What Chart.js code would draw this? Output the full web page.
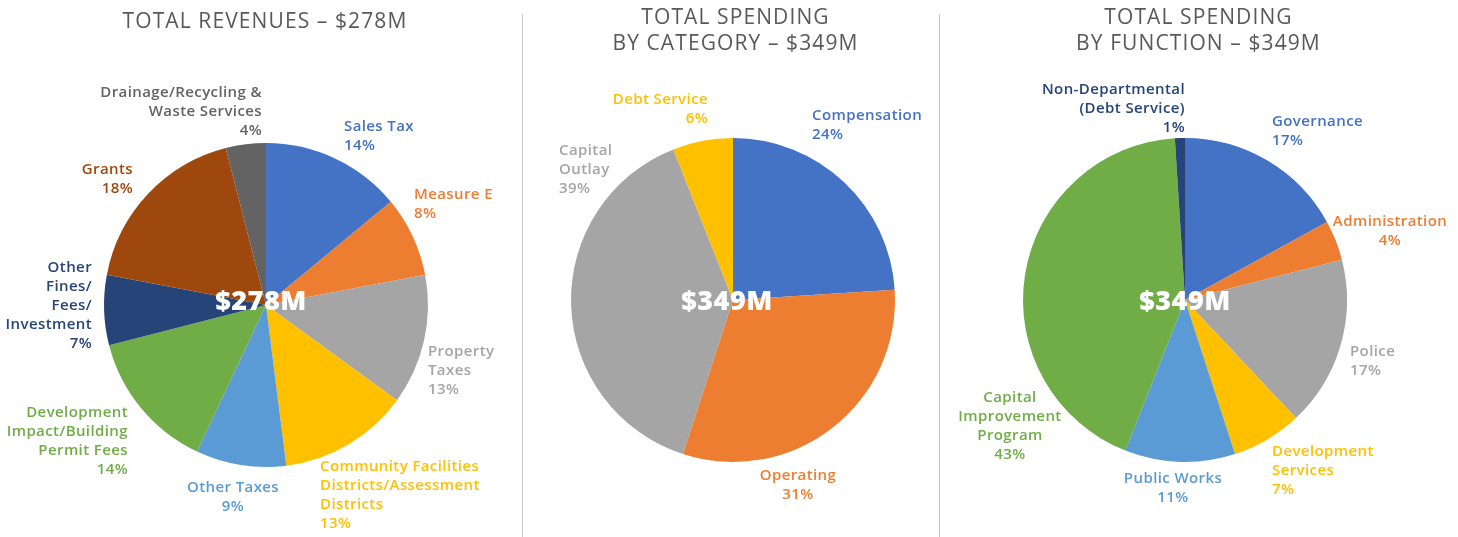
<!DOCTYPE html>
<html>
<head>
<meta charset="utf-8">
<script src="https://cdn.jsdelivr.net/npm/chart.js@4.4.1/dist/chart.umd.min.js"></script>
<style>
  body { margin: 0; background: #fff; width: 1458px; height: 537px; overflow: hidden; position: relative; font-family: "Open Sans", sans-serif; }
  .panel { position: absolute; top: 0; height: 537px; }
  .titulo { position: absolute; top: 7px; text-align: center; color: #595959; font-size: 21px; font-weight: 400; line-height: 26px; letter-spacing: 1.1px; }
  .divisor { position: absolute; top: 14px; width: 1px; height: 523px; background: #c9c9c9; }
</style>
</head>
<body>

<div class="panel" id="p1" style="left:0;width:520px">
  <canvas id="graficoIngresos"></canvas>
</div>
<div class="divisor" style="left:522px"></div>
<div class="panel" id="p2" style="left:523px;width:415px">
  <canvas id="graficoCategoria"></canvas>
</div>
<div class="divisor" style="left:939px"></div>
<div class="panel" id="p3" style="left:941px;width:517px">
  <canvas id="graficoFuncion"></canvas>
</div>

<div class="titulo" style="left:0;width:530px">TOTAL REVENUES – $278M</div>
<div class="titulo" style="left:523px;width:425px;top:3px">TOTAL SPENDING<br>BY CATEGORY – $349M</div>
<div class="titulo" style="left:941px;width:515px;top:3px">TOTAL SPENDING<br>BY FUNCTION – $349M</div>

<script>
// =====================================================
// DATOS
// =====================================================

const ingresosLabels = [
  ["Sales Tax"],
  ["Measure E"],
  ["Property", "Taxes"],
  ["Community Facilities", "Districts/Assessment", "Districts"],
  ["Other Taxes"],
  ["Development", "Impact/Building", "Permit Fees"],
  ["Other", "Fines/", "Fees/", "Investment"],
  ["Grants"],
  ["Drainage/Recycling &", "Waste Services"]
];
const ingresosPct = [14, 8, 13, 13, 9, 14, 7, 18, 4];
const ingresosTotal = "$278M";

const categoriaLabels = [
  ["Compensation"],
  ["Operating"],
  ["Capital", "Outlay"],
  ["Debt Service"]
];
const categoriaPct = [24, 31, 39, 6];
const categoriaTotal = "$349M";

const funcionLabels = [
  ["Governance"],
  ["Administration"],
  ["Police"],
  ["Development", "Services"],
  ["Public Works"],
  ["Capital", "Improvement", "Program"],
  ["Non-Departmental", "(Debt Service)"]
];
const funcionPct = [17, 4, 17, 7, 11, 43, 1];
const funcionTotal = "$349M";

// =====================================================
// ESTILOS
// =====================================================

const AZUL = "#4472C4", NARANJA = "#ED7D31", GRIS = "#A5A5A5", AMARILLO = "#FFC000";
const CELESTE = "#5B9BD5", VERDE = "#70AD47", MARINO = "#264478", MARRON = "#9E480E", GRIS_OSC = "#636363";

const ingresosColores = [AZUL, NARANJA, GRIS, AMARILLO, CELESTE, VERDE, MARINO, MARRON, GRIS_OSC];
const categoriaColores = [AZUL, NARANJA, GRIS, AMARILLO];
const funcionColores = [AZUL, NARANJA, GRIS, AMARILLO, CELESTE, VERDE, MARINO];

// posicion de cada etiqueta respecto al centro del pie: [dx, dy primera linea, alineacion]
const ingresosPos = [
  [78, -178, "left"], [148, -110, "left"], [162, 47, "left"], [54, 162, "left"],
  [-33, 183, "center"], [-138, 108, "right"], [-174, -37, "right"], [-133, -135, "right"],
  [-4, -212, "right"]
];
const categoriaPos = [
  [79, -184, "left"], [65, 176, "center"], [-174, -149, "left"], [-25, -200, "right"]
];
const funcionPos = [
  [87, -178, "left"], [205, -78, "center"], [165, 52, "left"], [87, 152, "left"],
  [-12, 179, "center"], [-175, 98, "center"], [0, -210, "right"]
];

// =====================================================
// PLUGIN ETIQUETAS
// =====================================================

const pluginEtiquetas = {
  id: "etiquetas",
  afterDatasetsDraw(chart, args, opts) {
    const ctx = chart.ctx;
    const meta = chart.getDatasetMeta(0);
    const arco = meta.data[0];
    const cx = arco.x, cy = arco.y;
    const datos = chart.data.datasets[0].data;
    const lh = 19;

    ctx.save();
    ctx.textBaseline = "middle";
    ctx.font = "600 15px 'Open Sans'";
    ctx.letterSpacing = "0.4px";

    chart.data.labels.forEach((lineas, i) => {
      const [dx, dy, align] = opts.pos[i];
      ctx.fillStyle = opts.colores[i];
      ctx.textAlign = align;
      const texto = lineas.concat([datos[i] + "%"]);
      texto.forEach((t, j) => {
        ctx.fillText(t, cx + dx, cy + dy + j * lh);
      });
    });

    // total en el centro
    ctx.fillStyle = "#fff";
    ctx.textAlign = "center";
    ctx.letterSpacing = "0.5px";
    ctx.font = "800 27px 'Open Sans'";
    ctx.fillText(opts.total, cx + opts.totalDx, cy + opts.totalDy);
    ctx.restore();
  }
};

function crearPie(id, labels, datos, colores, pos, total, padding, totalDx, totalDy) {
  const ctx = document.getElementById(id).getContext("2d");
  return new Chart(ctx, {
    type: "pie",
    data: {
      labels: labels,
      datasets: [{
        data: datos,
        backgroundColor: colores,
        borderWidth: 0
      }]
    },
    options: {
      responsive: true,
      maintainAspectRatio: false,
      animation: false,
      layout: { padding: padding },
      plugins: {
        legend: { display: false },
        tooltip: { enabled: false },
        etiquetas: { pos: pos, colores: colores, total: total, totalDx: totalDx, totalDy: totalDy }
      }
    },
    plugins: [pluginEtiquetas]
  });
}

// =====================================================
// INICIALIZACION
// =====================================================

crearPie("graficoIngresos", ingresosLabels, ingresosPct, ingresosColores, ingresosPos, ingresosTotal,
  { left: 104, right: 92, top: 143, bottom: 70 }, -5, -3);
crearPie("graficoCategoria", categoriaLabels, categoriaPct, categoriaColores, categoriaPos, categoriaTotal,
  { left: 48, right: 43, top: 138, bottom: 75 }, -6, 2);
crearPie("graficoFuncion", funcionLabels, funcionPct, funcionColores, funcionPos, funcionTotal,
  { left: 82, right: 111, top: 138, bottom: 75 }, 0, 2);
</script>
</body>
</html>
